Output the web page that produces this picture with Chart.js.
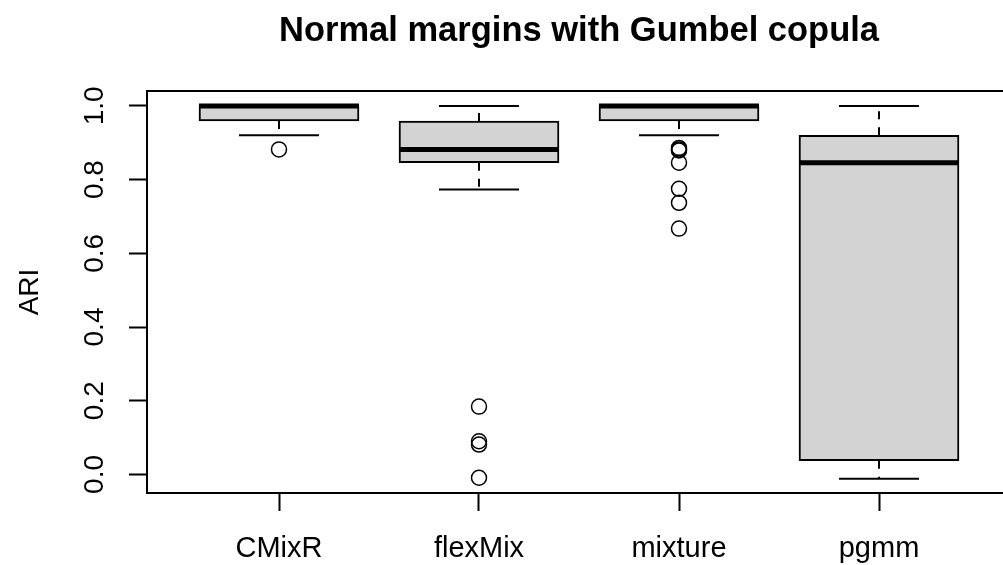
<!DOCTYPE html>
<html lang="en">
<head>
<meta charset="UTF-8">
<title>Normal margins with Gumbel copula</title>
<style>
    body { margin: 0; background: #fff; overflow: hidden; }
    #wrap { width: 1003px; height: 565px; overflow: hidden; }
    canvas { display: block; }
</style>
</head>
<body>
<div id="wrap">
    <canvas id="boxChart" width="1030" height="565"></canvas>
</div>
<script src="https://cdn.jsdelivr.net/npm/chart.js"></script>
<script>
// data
const categories = ['CMixR', 'flexMix', 'mixture', 'pgmm'];
const lowerWhisker = [0.920, 0.773, 0.920, -0.012];
const q1 = [0.959, 0.846, 0.959, 0.037];
const medians = [1.000, 0.882, 1.000, 0.846];
const q3 = [1.000, 0.959, 1.000, 0.920];
const upperWhisker = [1.000, 1.000, 1.000, 1.000];
const outliers = [
    [0.882],
    [0.184, 0.090, 0.081, -0.009],
    [0.886, 0.882, 0.879, 0.846, 0.775, 0.737, 0.667],
    []
];
const yTicks = [0, 0.2, 0.4, 0.6, 0.8, 1.0];

const font = 'Liberation Sans, Arial, sans-serif';

// build the datasets
const boxData = categories.map((c, i) => ({ x: i + 1, y: [q1[i], q3[i]] }));
const medianData = categories.map((c, i) => ({ x: i + 1, y: medians[i] }));
const stapleData = [];
const whiskerData = [];
categories.forEach((c, i) => {
    stapleData.push({ x: i + 1, y: upperWhisker[i] }, { x: i + 1, y: lowerWhisker[i] });
    whiskerData.push({ x: i + 1, y: q3[i] }, { x: i + 1, y: upperWhisker[i] }, { x: i + 1, y: null });
    whiskerData.push({ x: i + 1, y: q1[i] }, { x: i + 1, y: lowerWhisker[i] }, { x: i + 1, y: null });
});
const outlierData = [];
outliers.forEach((list, i) => list.forEach(v => outlierData.push({ x: i + 1, y: v })));

// no extra padding for first/last labels, the plot box is fixed
const noPad = axis => { axis.paddingLeft = 0; axis.paddingRight = 0; axis.paddingTop = 0; axis.paddingBottom = 0; };

const ctx = document.getElementById('boxChart').getContext('2d');
new Chart(ctx, {
    data: {
        datasets: [
            {
                type: 'bar',
                data: boxData,
                backgroundColor: '#d3d3d3',
                borderColor: '#000',
                borderWidth: 2,
                borderSkipped: false,
                barThickness: 160,
                order: 3
            },
            {
                type: 'scatter',
                data: whiskerData,
                showLine: true,
                spanGaps: false,
                borderColor: '#000',
                borderWidth: 2,
                borderDash: [8, 8],
                pointRadius: 0,
                order: 2
            },
            {
                type: 'scatter',
                data: stapleData,
                pointStyle: 'line',
                pointRadius: 40,
                borderColor: '#000',
                borderWidth: 2,
                order: 2
            },
            {
                type: 'scatter',
                data: medianData,
                pointStyle: 'line',
                pointRadius: 80,
                borderColor: '#000',
                borderWidth: 5,
                order: 1
            },
            {
                type: 'scatter',
                data: outlierData,
                pointStyle: 'circle',
                pointRadius: 7.5,
                backgroundColor: 'rgba(0,0,0,0)',
                borderColor: '#000',
                borderWidth: 1.5,
                order: 0
            }
        ]
    },
    options: {
        responsive: false,
        animation: false,
        layout: { autoPadding: false, padding: { left: 0, right: 19, top: 0, bottom: 0 } },
        plugins: {
            legend: { display: false },
            tooltip: { enabled: false },
            title: {
                display: true,
                text: 'Normal margins with Gumbel copula',
                color: '#000',
                fullSize: false,
                font: { family: font, size: 34.5, weight: 'bold' },
                padding: { top: 10.6, bottom: 39 }
            }
        },
        scales: {
            x: {
                type: 'linear',
                position: 'bottom',
                offset: false,
                min: 0.34,
                max: 4.66,
                afterBuildTicks: axis => { axis.ticks = categories.map((c, i) => ({ value: i + 1 })); },
                afterFit: axis => { axis.height = 72; noPad(axis); },
                ticks: {
                    autoSkip: false,
                    maxRotation: 0,
                    color: '#000',
                    padding: 21,
                    font: { family: font, size: 29 },
                    callback: v => categories[v - 1]
                },
                grid: { display: true, offset: false, drawOnChartArea: false, drawTicks: true, tickLength: 18, tickColor: '#000', tickWidth: 2 },
                border: { display: true, color: '#000', width: 2 }
            },
            x2: {
                type: 'linear',
                position: 'top',
                offset: false,
                min: 0.34,
                max: 4.66,
                afterFit: axis => { axis.height = 0; noPad(axis); },
                ticks: { display: false },
                grid: { display: true, offset: false, drawOnChartArea: false, drawTicks: false },
                border: { display: true, color: '#000', width: 2 }
            },
            y: {
                type: 'linear',
                position: 'left',
                min: -0.0504,
                max: 1.0404,
                afterBuildTicks: axis => { axis.ticks = yTicks.map(v => ({ value: v })); },
                afterFit: axis => { axis.width = 147; noPad(axis); },
                ticks: {
                    autoSkip: false,
                    minRotation: 90,
                    maxRotation: 90,
                    crossAlign: 'center',
                    color: '#000',
                    padding: 14,
                    font: { family: font, size: 28 },
                    callback: v => v.toFixed(1)
                },
                title: {
                    display: true,
                    text: 'ARI',
                    color: '#000',
                    font: { family: font, size: 28 },
                    padding: { top: 13, bottom: 0 }
                },
                grid: { display: true, drawOnChartArea: false, drawTicks: true, tickLength: 18, tickColor: '#000', tickWidth: 2 },
                border: { display: true, color: '#000', width: 2 }
            }
        }
    }
});
</script>
</body>
</html>
